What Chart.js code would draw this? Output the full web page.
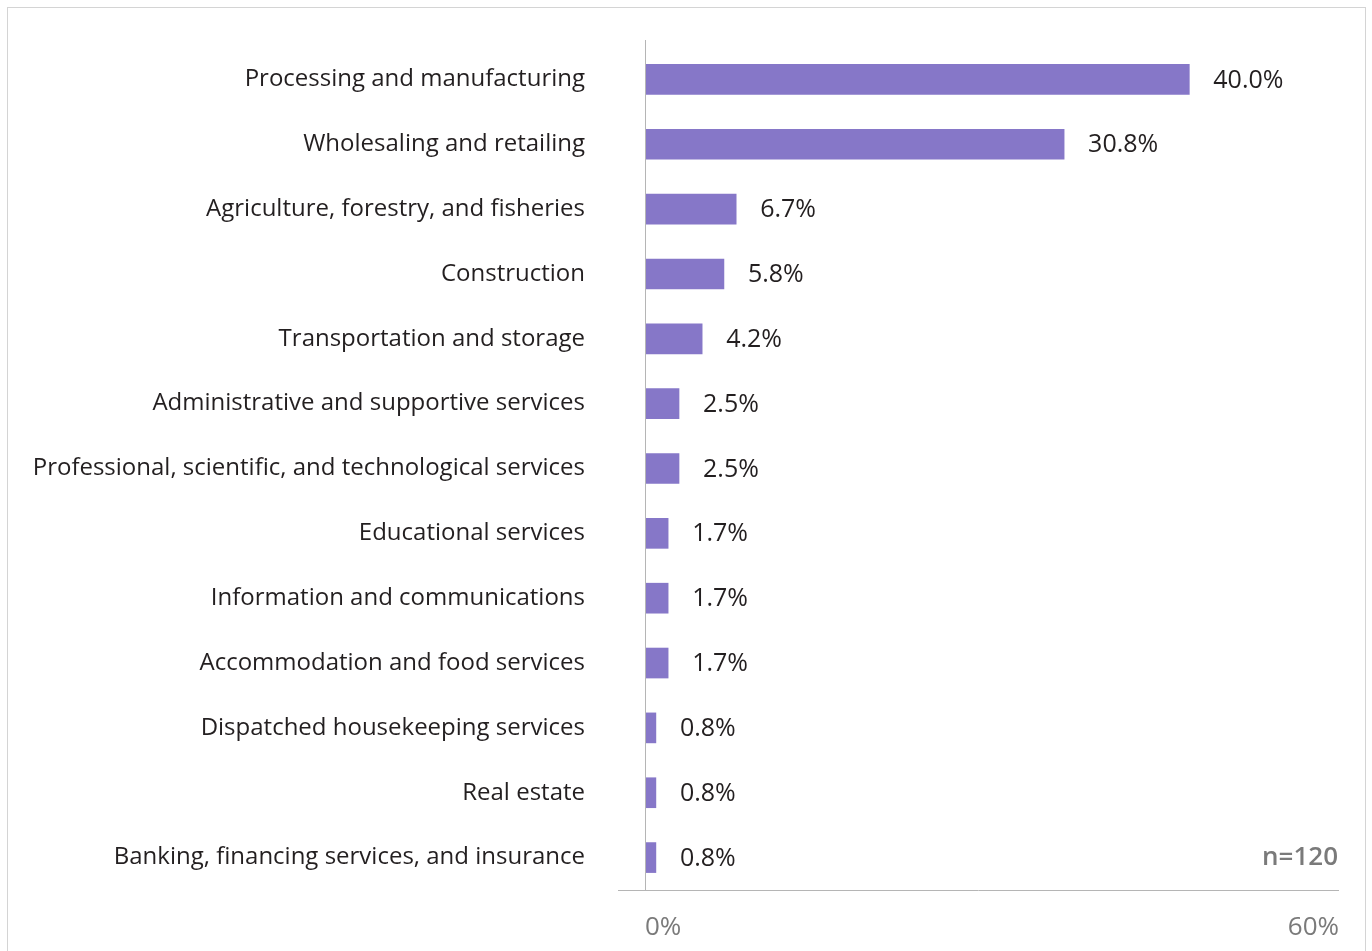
<!DOCTYPE html>
<html>
<head>
<meta charset="utf-8">
<script src="https://cdn.jsdelivr.net/npm/chart.js@4.4.1/dist/chart.umd.min.js"></script>
<style>
  html, body { margin: 0; padding: 0; background: #fff; }
  #wrap { width: 1372px; height: 951px; position: relative; }
</style>
</head>
<body>
<div id="wrap"><canvas id="industryChart" width="1372" height="951"></canvas></div>
<script>
const industries = [
    'Processing and manufacturing',
    'Wholesaling and retailing',
    'Agriculture, forestry, and fisheries',
    'Construction',
    'Transportation and storage',
    'Administrative and supportive services',
    'Professional, scientific, and technological services',
    'Educational services',
    'Information and communications',
    'Accommodation and food services',
    'Dispatched housekeeping services',
    'Real estate',
    'Banking, financing services, and insurance'
];
const shares = [40.0, 30.8, 6.7, 5.8, 4.2, 2.5, 2.5, 1.7, 1.7, 1.7, 0.8, 0.8, 0.8];
const axisTickLabels = ['0%', '60%'];
const sampleNote = 'n=120';

const FONT = '"Open Sans", sans-serif';
const BAR_COLOR = '#8677c8';

// frame, axis lines, value labels and the sample size note
const decorations = {
    id: 'decorations',
    beforeDraw(chart) {
        const ctx = chart.ctx;
        ctx.save();
        ctx.strokeStyle = '#d4d4d4';
        ctx.lineWidth = 1;
        ctx.strokeRect(7.5, 7.5, 1358, 980);
        ctx.restore();
    },
    afterDatasetsDraw(chart) {
        const ctx = chart.ctx;
        const area = chart.chartArea;
        ctx.save();
        ctx.strokeStyle = '#b5b5b5';
        ctx.lineWidth = 1;
        ctx.beginPath();
        ctx.moveTo(Math.round(area.left) + 0.5, 40);
        ctx.lineTo(Math.round(area.left) + 0.5, Math.round(area.bottom));
        ctx.moveTo(618, Math.round(area.bottom) + 0.5);
        ctx.lineTo(area.right, Math.round(area.bottom) + 0.5);
        ctx.stroke();

        ctx.font = '25px ' + FONT;
        ctx.fillStyle = '#231f20';
        ctx.textAlign = 'left';
        ctx.textBaseline = 'middle';
        chart.getDatasetMeta(0).data.forEach((bar, i) => {
            ctx.fillText(shares[i].toFixed(1) + '%', bar.x + 24, bar.y + 1);
        });

        ctx.font = '600 26px ' + FONT;
        ctx.fillStyle = '#7a7a7a';
        ctx.textAlign = 'right';
        const last = chart.getDatasetMeta(0).data[shares.length - 1];
        ctx.fillText(sampleNote, area.right - 1, last.y);
        ctx.restore();
    }
};

new Chart(document.getElementById('industryChart'), {
    type: 'bar',
    data: {
        labels: industries,
        datasets: [{
            data: shares,
            backgroundColor: BAR_COLOR,
            borderWidth: 0,
            barThickness: 30
        }]
    },
    options: {
        indexAxis: 'y',
        responsive: false,
        animation: false,
        layout: { padding: { top: 47, right: 33, left: 0, bottom: 0 } },
        plugins: {
            legend: { display: false },
            tooltip: { enabled: false }
        },
        scales: {
            x: {
                min: 0,
                max: 51,
                afterBuildTicks(scale) {
                    scale.ticks = [{ value: 0 }, { value: 51 }];
                },
                afterFit(scale) { scale.height = 61; },
                grid: { display: false, drawTicks: false },
                border: { display: false },
                ticks: {
                    align: 'inner',
                    padding: 22,
                    color: '#7a7a7a',
                    font: { family: FONT, size: 26 },
                    callback: (v, i) => axisTickLabels[i]
                }
            },
            y: {
                afterFit(scale) {
                    // the label gap would otherwise be added above and below the plot
                    scale.width = 645;
                    scale.paddingTop = 0;
                    scale.paddingBottom = 0;
                },
                grid: { display: false, drawTicks: false },
                border: { display: false },
                ticks: {
                    padding: 60,
                    color: '#231f20',
                    font: { family: FONT, size: 24 }
                }
            }
        }
    },
    plugins: [decorations]
});
</script>
</body>
</html>
